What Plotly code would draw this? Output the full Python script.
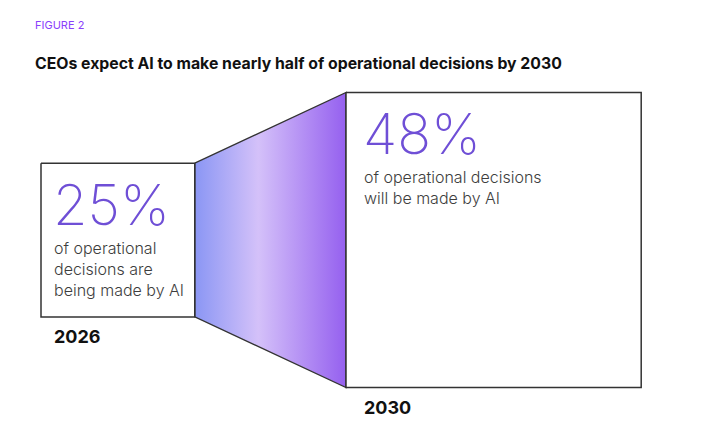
import plotly.graph_objects as go

# data
years = ["2026", "2030"]
shares = [25, 48]
notes = [
    "of operational<br>decisions are<br>being made by AI",
    "of operational decisions<br>will be made by AI",
]
eyebrow = "FIGURE 2"
title = "CEOs expect AI to make nearly half of operational decisions by 2030"

W, H = 715, 446
OFF = 8               # page body margin, so data units line up with screen pixels
PX_PER_PT = 6.15      # box side in px per percentage point
CENTER_Y = 240
LEFTS = [41, 346]
PADS = [11, 16]
EDGE = "#333333"
PURPLE = "#6f4fd6"
FONT = "Inter, Lato, sans-serif"

boxes = []
for left, share in zip(LEFTS, shares):
    side = share * PX_PER_PT
    boxes.append((left, left + side, CENTER_Y - side / 2, CENTER_Y + side / 2))

fig = go.Figure()

# gradient connector between the two boxes
(_, sx1, sy0, sy1), (bx0, _, by0, by1) = boxes
fig.add_trace(go.Scatter(
    x=[sx1, bx0, bx0, sx1, sx1],
    y=[sy0, by0, by1, sy1, sy0],
    mode="lines",
    fill="toself",
    fillgradient={
        "type": "horizontal",
        "colorscale": [[0, "#8a96f4"], [0.42, "#d4c1f9"], [1, "#9560ef"]],
    },
    line={"color": EDGE, "width": 1.3},
    hoverinfo="skip",
    showlegend=False,
))

for (x0, x1, y0, y1), pad, share, note, year in zip(boxes, PADS, shares, notes, years):
    fig.add_trace(go.Scatter(
        x=[x0, x1, x1, x0, x0],
        y=[y0, y0, y1, y1, y0],
        mode="lines",
        fill="toself",
        fillcolor="white",
        line={"color": EDGE, "width": 1.5},
        hoverinfo="skip",
        showlegend=False,
    ))
    fig.add_annotation(
        x=x0 + pad - 1, y=y0 + 42, text=f"{share}%", showarrow=False,
        xanchor="left", yanchor="middle",
        font={"family": FONT, "size": 56, "color": PURPLE, "weight": 200},
    )
    fig.add_annotation(
        x=x0 + pad, y=y0 + 73, text=note, showarrow=False, align="left",
        xanchor="left", yanchor="top",
        font={"family": FONT, "size": 16, "color": "#3d3d3d", "weight": 300},
    )
    fig.add_annotation(
        x=x0 + pad, y=y1 + 20, text=f"<b>{year}</b>", showarrow=False,
        xanchor="left", yanchor="middle",
        font={"family": FONT, "size": 18, "color": "#111111"},
    )

fig.add_annotation(
    x=33, y=25, text=eyebrow, showarrow=False, xanchor="left", yanchor="middle",
    font={"family": FONT, "size": 11, "color": "#8a3ffc"},
)
fig.add_annotation(
    x=33, y=63, text=f"<b>{title}</b>", showarrow=False, xanchor="left", yanchor="middle",
    font={"family": FONT, "size": 15.8, "color": "#111111"},
)

fig.update_xaxes(range=[OFF, W + OFF], visible=False, fixedrange=True)
fig.update_yaxes(range=[H + OFF, OFF], visible=False, fixedrange=True)
fig.update_layout(
    width=W,
    height=H,
    margin={"l": 0, "r": 0, "t": 0, "b": 0},
    plot_bgcolor="white",
    paper_bgcolor="white",
)

fig.write_html("out.html")
